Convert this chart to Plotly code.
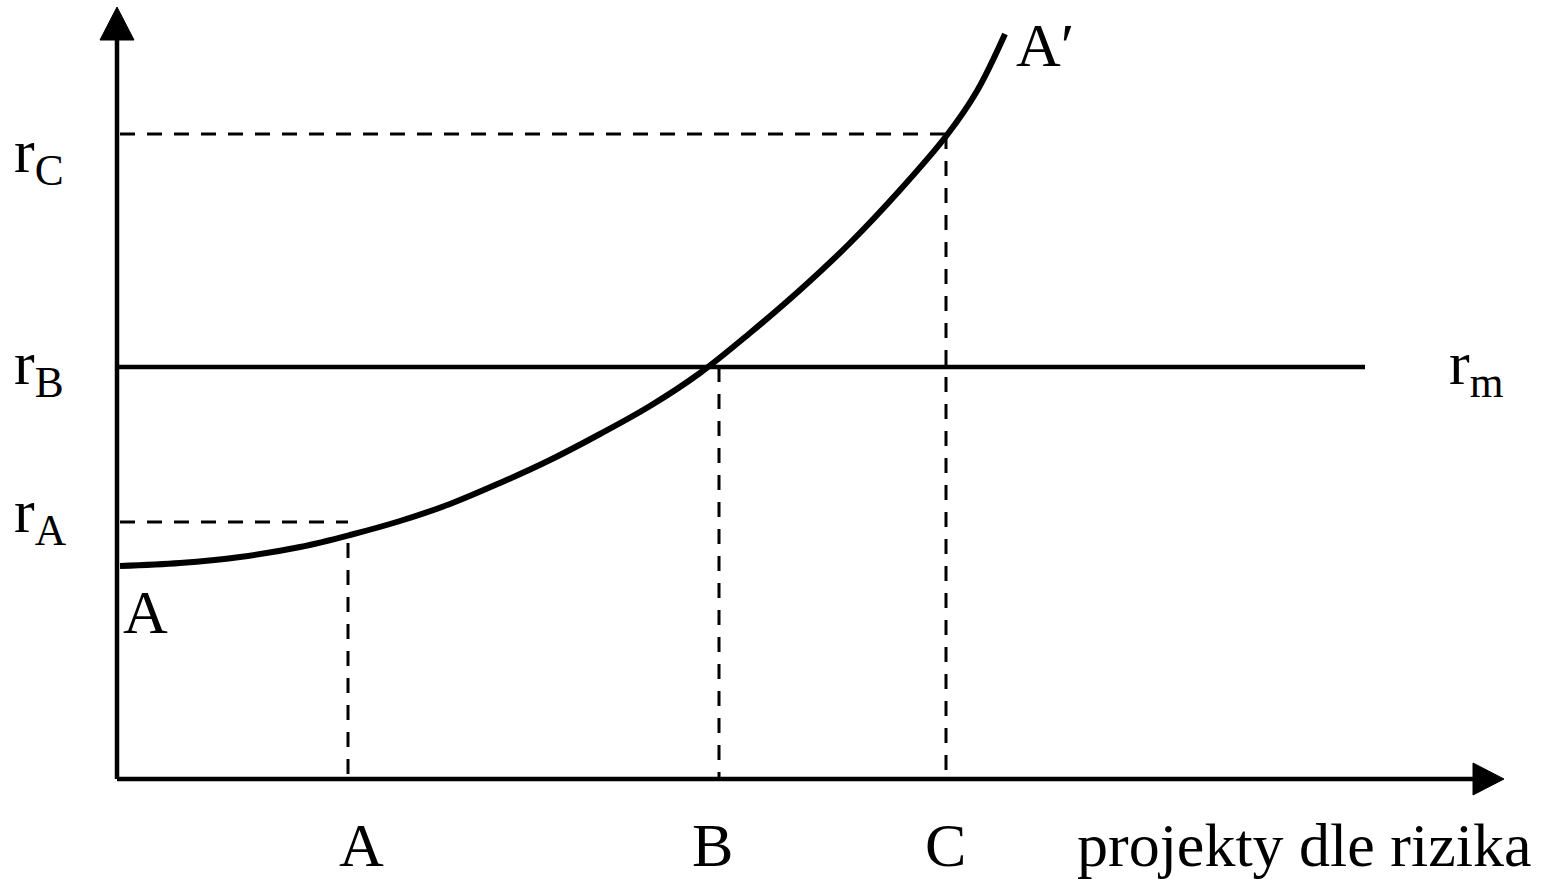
import plotly.graph_objects as go

# Curve A-A' (required return vs. project risk), origin at the axes' corner
curve_x = [3, 63, 123, 183, 233, 283, 333, 383, 433, 483, 533, 583,
           633, 683, 733, 783, 830, 860, 888]
curve_y = [213, 216, 222, 232, 244, 258, 275, 296, 319, 345, 373, 406,
           446, 489, 536, 589, 644, 688, 745]

# Return levels and project positions
r_levels = {"A": 257, "B": 412, "C": 645}
projects = {"A": 231, "B": 602, "C": 829}
rm_end = 1248
curve_at_A = 236

BLACK = "black"
FONT = "Liberation Serif, Times New Roman, serif"

fig = go.Figure()


def line(xs, ys, width, dash=None):
    fig.add_trace(go.Scatter(
        x=xs, y=ys, mode="lines", hoverinfo="skip", showlegend=False,
        line=dict(color=BLACK, width=width, dash=dash),
    ))


# axes
line([0, 0], [0, 740], 4.5)
line([0, 1358], [0, 0], 4.5)
fig.add_trace(go.Scatter(x=[-17, 0, 17, -17], y=[739, 772, 739, 739], mode="lines",
                         fill="toself", fillcolor=BLACK, line=dict(color=BLACK, width=1),
                         hoverinfo="skip", showlegend=False))
fig.add_trace(go.Scatter(x=[1356, 1387, 1356, 1356], y=[16, 0, -16, 16], mode="lines",
                         fill="toself", fillcolor=BLACK, line=dict(color=BLACK, width=1),
                         hoverinfo="skip", showlegend=False))

# dashed guides
dash = "15px,12px"
line([3, projects["A"]], [r_levels["A"], r_levels["A"]], 3, dash)
line([projects["A"], projects["A"]], [curve_at_A, 0], 3, dash)
line([projects["B"], projects["B"]], [r_levels["B"], 0], 3, dash)
line([3, projects["C"]], [r_levels["C"], r_levels["C"]], 3, dash)
line([projects["C"], projects["C"]], [r_levels["C"], 0], 3, dash)

# market rate r_m
line([0, rm_end], [r_levels["B"], r_levels["B"]], 4.5)

# curve
fig.add_trace(go.Scatter(x=curve_x, y=curve_y, mode="lines", hoverinfo="skip",
                         showlegend=False,
                         line=dict(color=BLACK, width=6, shape="spline", smoothing=1)))


def label(x, y, text, size=62, xanchor="center"):
    fig.add_annotation(x=x, y=y, text=text, showarrow=False, xanchor=xanchor,
                       yanchor="middle", font=dict(family=FONT, size=size, color=BLACK))


label(-105, 624, "r<sub>C</sub>", xanchor="left")
label(-105, 412, "r<sub>B</sub>", xanchor="left")
label(-105, 264, "r<sub>A</sub>", xanchor="left")
label(1330, 412, "r<sub>m</sub>", xanchor="left")
label(28, 167, "A")
label(928, 734, "A′")
label(244, -66, "A")
label(595, -66, "B")
label(828, -66, "C")
label(1187, -66, "projekty dle rizika")

fig.update_layout(
    width=1544, height=879,
    margin=dict(l=0, r=0, t=0, b=0),
    plot_bgcolor="white", paper_bgcolor="white",
    xaxis=dict(range=[-117, 1427], visible=False, fixedrange=True),
    yaxis=dict(range=[-100, 779], visible=False, fixedrange=True),
)

fig.write_html("out.html", config={"displayModeBar": False},
               post_script="document.body.style.margin = '0px';")
